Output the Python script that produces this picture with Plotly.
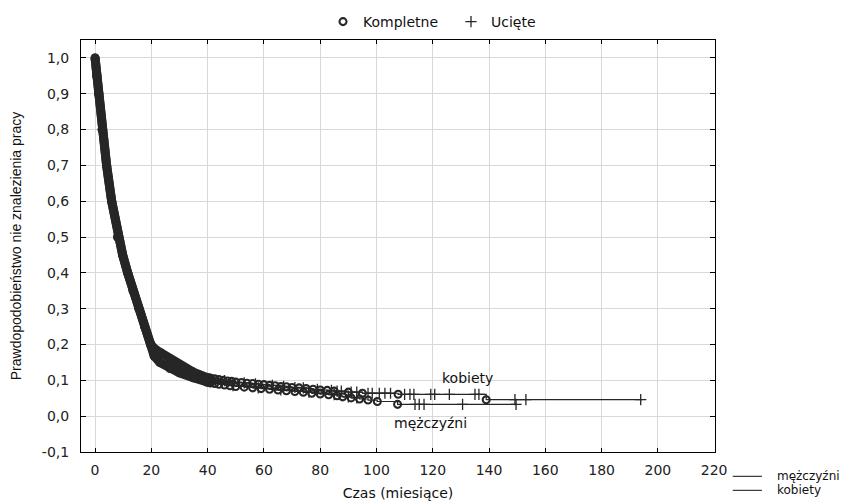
import plotly.graph_objects as go

# ---------------- data ----------------
# dense early part of the survival curves (both groups)
kob_curve_t = [0, 0.6, 1.3, 2.5, 4.1, 5.9, 8.0, 9.8, 11.6, 13.5, 15.6, 17.6, 19.8, 21.5, 23.5, 26.6, 30.0, 34.9, 39.7, 41.0]
kob_curve_s = [1.0, 0.95, 0.90, 0.80, 0.70, 0.60, 0.50, 0.45, 0.40, 0.35, 0.30, 0.25, 0.20, 0.186, 0.176, 0.160, 0.143, 0.123, 0.108, 0.106]
men_curve_t = [0, 0.6, 1.3, 2.5, 4.1, 5.9, 8.0, 9.8, 11.6, 13.5, 15.6, 17.6, 19.8, 21.0, 23.0, 26.6, 30.0, 34.9, 39.7, 41.0]
men_curve_s = [1.0, 0.95, 0.90, 0.80, 0.70, 0.60, 0.50, 0.45, 0.40, 0.35, 0.30, 0.25, 0.20, 0.168, 0.150, 0.133, 0.121, 0.107, 0.095, 0.093]

# complete observations (events) in the tail
kob_event_t = [41, 42.5, 44, 45.5, 47, 48.5, 50, 52, 54, 56, 58, 60, 62, 64, 66, 68, 70, 72.5, 75, 77.5, 80, 82.5, 85, 90, 95, 107.7, 139]
kob_event_s = [0.106, 0.104, 0.102, 0.100, 0.098, 0.097, 0.095, 0.094, 0.092, 0.091, 0.089, 0.088, 0.086, 0.085, 0.083, 0.082,
               0.080, 0.079, 0.077, 0.075, 0.073, 0.072, 0.070, 0.067, 0.064, 0.061, 0.046]
men_event_t = [41, 42.5, 44, 46, 48, 50, 53, 56, 59, 62, 65, 68, 71, 74, 77, 80, 83, 86, 88, 91, 94, 97, 100.3, 107.5]
men_event_s = [0.093, 0.091, 0.089, 0.087, 0.085, 0.083, 0.081, 0.079, 0.077, 0.075, 0.073, 0.071, 0.069, 0.067, 0.064,
               0.062, 0.060, 0.057, 0.054, 0.051, 0.048, 0.045, 0.041, 0.033]

# censored observations
kob_cens_t = [46, 53, 57, 63, 67, 71, 74, 79, 84, 86, 87.5, 91, 93, 97, 98.5, 101, 103, 105, 110, 111.9, 113.3, 119.3,
              120.7, 125.9, 135, 136.4, 149.2, 153.1, 193.9]
kob_cens_s = [0.099, 0.093, 0.090, 0.086, 0.083, 0.080, 0.079, 0.075, 0.072, 0.070, 0.070, 0.067, 0.067, 0.064, 0.064,
              0.064, 0.064, 0.064, 0.061, 0.061, 0.061, 0.061, 0.061, 0.061, 0.061, 0.061, 0.046, 0.046, 0.046]
men_cens_t = [49, 58, 66, 76, 85, 90, 93, 113.7, 115.2, 116.9, 130.6, 149.6]
men_cens_s = [0.085, 0.079, 0.073, 0.067, 0.060, 0.054, 0.051, 0.033, 0.033, 0.033, 0.033, 0.033]

# end of follow-up for each group
kob_end_t, kob_end_s = 194.5, 0.046
men_end_t, men_end_s = 150.0, 0.033

x_ticks = [0, 20, 40, 60, 80, 100, 120, 140, 160, 180, 200, 220]
y_ticks = [-0.1, 0.0, 0.1, 0.2, 0.3, 0.4, 0.5, 0.6, 0.7, 0.8, 0.9, 1.0]
y_ticklabels = ["-0,1", "0,0", "0,1", "0,2", "0,3", "0,4", "0,5", "0,6", "0,7", "0,8", "0,9", "1,0"]

# ---------------- figure ----------------
DARK = "#262626"
FONT = "DejaVu Sans"
W, H = 855, 493   # page body has an 8px margin
fig = go.Figure()

# thick dense band (early part)
for t, s in [(kob_curve_t, kob_curve_s), (men_curve_t, men_curve_s)]:
    fig.add_trace(go.Scatter(x=t, y=s, mode="lines+markers",
                             line=dict(color=DARK, width=9),
                             marker=dict(color=DARK, size=9),
                             showlegend=False, hoverinfo="skip"))

# thin step lines for the tail
fig.add_trace(go.Scatter(x=[kob_curve_t[-1]] + kob_event_t + [kob_end_t],
                         y=[kob_curve_s[-1]] + kob_event_s + [kob_end_s],
                         mode="lines", line=dict(color=DARK, width=1.2, shape="hv"),
                         showlegend=False, hoverinfo="skip"))
fig.add_trace(go.Scatter(x=[men_curve_t[-1]] + men_event_t + [men_end_t],
                         y=[men_curve_s[-1]] + men_event_s + [men_end_s],
                         mode="lines", line=dict(color=DARK, width=1.2, shape="hv"),
                         showlegend=False, hoverinfo="skip"))

# complete (circles)
fig.add_trace(go.Scatter(x=kob_event_t + men_event_t, y=kob_event_s + men_event_s,
                         mode="markers", name="Kompletne",
                         marker=dict(symbol="circle-open", size=7, color=DARK, line=dict(width=2.1, color=DARK))))
# censored (plus)
fig.add_trace(go.Scatter(x=kob_cens_t + men_cens_t, y=kob_cens_s + men_cens_s,
                         mode="markers", name="Ucięte",
                         marker=dict(symbol="cross-thin-open", size=8, color=DARK, line=dict(width=1.3, color=DARK))))

# group labels inside the plot
fig.add_annotation(x=132.4, y=0.106, text="kobiety", showarrow=False,
                   font=dict(family=FONT, size=14, color="#111"))
fig.add_annotation(x=119.2, y=-0.019, text="mężczyźni", showarrow=False,
                   font=dict(family=FONT, size=14, color="#111"))

# bottom-right line legend
for yy, label in [(-0.059, "mężczyźni"), (-0.093, "kobiety")]:
    fig.add_shape(type="line", xref="paper", yref="paper", x0=1.028, x1=1.074, y0=yy, y1=yy,
                  line=dict(color="#111", width=1))
    fig.add_annotation(xref="paper", yref="paper", x=1.094, y=yy, text=label, showarrow=False,
                       xanchor="left", yanchor="middle", font=dict(family=FONT, size=12, color="#111"))

fig.update_layout(
    width=W, height=H,
    margin=dict(l=73, r=148, t=32, b=49),
    paper_bgcolor="white", plot_bgcolor="white",
    font=dict(family=FONT, size=14, color="#222"),
    legend=dict(orientation="h", xref="container", yref="container",
                x=315 / W, xanchor="left", y=1 - 14 / H, yanchor="middle",
                font=dict(family=FONT, size=14, color="#111"),
                entrywidth=83, entrywidthmode="pixels", itemwidth=30,
                bgcolor="rgba(0,0,0,0)"),
    separators=", ",
)
fig.update_xaxes(range=[-5, 220.3], tickvals=x_ticks, showgrid=True, gridcolor="#d9d9d9", gridwidth=1,
                 zeroline=False, showline=True, linecolor="black", linewidth=1, mirror="ticks",
                 ticks="inside", ticklen=4, tickcolor="black", automargin=False, ticklabelstandoff=5,
                 title=dict(text="Czas (miesiące)", font=dict(family=FONT, size=14, color="#111"), standoff=12),
                 tickfont=dict(family=FONT, size=14, color="#222"))
fig.update_yaxes(range=[-0.1, 1.05], tickvals=y_ticks, ticktext=y_ticklabels, showgrid=True,
                 gridcolor="#d9d9d9", gridwidth=1,
                 zeroline=False, showline=True, linecolor="black", linewidth=1, mirror="ticks",
                 ticks="inside", ticklen=5, tickcolor="black", automargin=False, ticklabelstandoff=8,
                 title=dict(text="Prawdopodobieństwo nie znalezienia pracy",
                            font=dict(family="Liberation Sans Narrow, Liberation Sans", size=14, color="#111"), standoff=22),
                 tickfont=dict(family=FONT, size=14, color="#222"))

fig.write_html("out.html")
